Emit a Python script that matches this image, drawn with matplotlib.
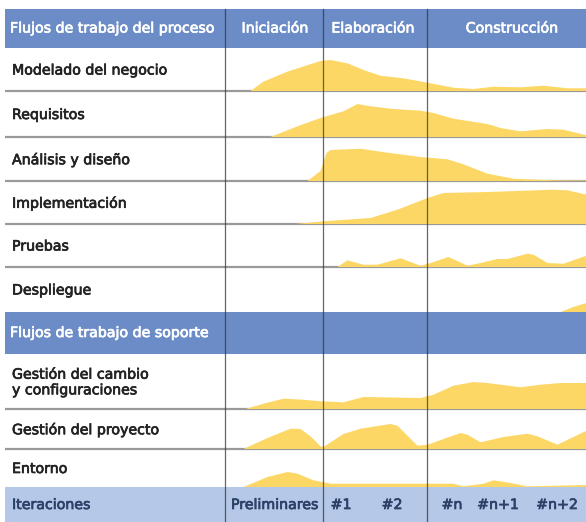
import matplotlib
matplotlib.use("Agg")
import matplotlib.pyplot as plt
import matplotlib.patheffects as pe
from matplotlib.patches import Rectangle

# ---- data: effort curves (t = position along the timeline, h = effort) ----
modelado_t = [25, 38, 62, 95, 105, 122, 138, 155, 178, 202, 228, 248, 268, 295, 318, 342, 361]
modelado_h = [0, 9.4, 19.4, 30, 31, 27.7, 21, 15.3, 12.7, 8.3, 3.3, 2, 4.3, 3.7, 5.3, 2.7, 2.7]

requisitos_t = [45, 72, 95, 118, 132, 145, 168, 195, 208, 228, 262, 275, 295, 322, 338, 361]
requisitos_h = [0, 10.7, 19, 25.7, 33, 30.7, 28, 26.3, 24, 18.3, 13, 9, 5.7, 8, 7.3, 1.7]

analisis_t = [82, 95, 101, 105, 135, 162, 195, 222, 238, 262, 288, 328, 361]
analisis_h = [0, 10, 28, 31, 32.3, 28.3, 24, 21.7, 16.7, 7.3, 2.3, 0.7, 0.5]

implementacion_t = [70, 98, 145, 172, 202, 218, 262, 328, 342, 361]
implementacion_h = [0, 2.7, 6, 14.3, 26, 31, 32, 34.3, 33.7, 29.3]

pruebas_t = [112, 122, 138, 152, 175, 195, 205, 223, 242, 255, 272, 282, 302, 308, 322, 338, 361]
pruebas_h = [0, 6.7, 2.3, 2.3, 8.7, 1.3, 4, 10, 1.3, 4, 8, 8, 13.3, 12.3, 4, 3.3, 11.3]

despliegue_t = [335, 348, 361]
despliegue_h = [0, 5, 9]

cambio_t = [20, 38, 58, 78, 95, 118, 138, 195, 208, 228, 248, 262, 295, 315, 335, 361]
cambio_h = [0, 5.3, 10.3, 9.3, 7.7, 6.7, 12, 11, 14.3, 23.3, 27, 26, 21.7, 24.3, 26, 26]

proyecto_t = [18, 42, 65, 75, 85, 95, 98, 118, 135, 165, 172, 192, 202, 235, 242, 255, 278, 302, 312, 332, 361]
proyecto_h = [0, 11, 20.3, 20, 12.7, 2.7, 2, 15, 20.3, 25, 23.3, 3.3, 4.3, 16, 14.3, 6.7, 12, 15.3, 12.7, 4.3, 18.3]

entorno_t = [18, 42, 62, 72, 88, 105, 228, 238, 258, 268, 285, 302, 361]
entorno_h = [0, 10, 15, 13.3, 6.7, 3.3, 3.3, 0.7, 3.3, 6.7, 4, 0.7, 2]

process_labels = ["Modelado del negocio", "Requisitos", "Análisis y diseño",
                  "Implementación", "Pruebas", "Despliegue"]
support_labels = ["Gestión del cambio\ny configuraciones", "Gestión del proyecto", "Entorno"]
phases = ["Iniciación", "Elaboración", "Construcción"]
iterations = ["Preliminares", "#1", "#2", "#n", "#n+1", "#n+2"]

curves = [(modelado_t, modelado_h), (requisitos_t, requisitos_h), (analisis_t, analisis_h),
          (implementacion_t, implementacion_h), (pruebas_t, pruebas_h),
          (despliegue_t, despliegue_h), (cambio_t, cambio_h),
          (proyecto_t, proyecto_h), (entorno_t, entorno_h)]

# ---- layout (pixels of the 586x522 picture) ----
W, H = 586, 522
BLUE = "#6b8cc6"
LIGHT = "#b5c8e8"
YELLOW = "#fdd766"
NAVY = "#2c4068"
TEXT = "#222222"

rows = [(48, 91), (91, 137), (137, 181), (181, 224), (224, 267), (267, 312),
        (354, 409), (409, 449), (449, 487)]
labels = process_labels + support_labels
x_chart = 225
vlines = [225, 322.5, 427]
phase_x = [275, 373, 512]
iter_x = [275, 341, 392, 452, 498, 557]

fig = plt.figure(figsize=(W / 100, H / 100), dpi=100)
bg = fig.add_axes([0, 0, 1, 1])
bg.set_xlim(0, W)
bg.set_ylim(H, 0)
bg.axis("off")

# bands
bg.add_patch(Rectangle((5, 9), W - 5, 39, color=BLUE, lw=0))
bg.add_patch(Rectangle((5, 312), W - 5, 42, color=BLUE, lw=0))
bg.add_patch(Rectangle((5, 487), W - 5, 35, color=LIGHT, lw=0))

# row separators
for top, bot in rows:
    if bot not in (312, 487):
        bg.plot([5, W], [bot, bot], color="#9a9a9a", lw=1.6, solid_capstyle="butt")

# effort curves, one small axes per row
for (top, bot), (t, h) in zip(rows, curves):
    ax = fig.add_axes([x_chart / W, 1 - (bot - 0.5) / H, (W - x_chart) / W, (bot - top - 0.5) / H])
    ax.fill_between(t, 0, h, color=YELLOW, lw=0)
    ax.set_xlim(0, W - x_chart)
    ax.set_ylim(0, bot - top - 0.5)
    ax.axis("off")
    ax.patch.set_alpha(0)

# overlay for vertical lines and text
ov = fig.add_axes([0, 0, 1, 1])
ov.set_xlim(0, W)
ov.set_ylim(H, 0)
ov.axis("off")
ov.patch.set_alpha(0)
for x in vlines:
    ov.plot([x, x], [9, H], color="#333333", lw=0.9, alpha=0.75)

fs = 10.2


def put(x, y, s, color, **kw):
    t = ov.text(x, y, s, color=color, fontsize=fs, va="center", **kw)
    t.set_path_effects([pe.withStroke(linewidth=0.5, foreground=color)])


put(10, 28.5, "Flujos de trabajo del proceso", "white")
for x, p in zip(phase_x, phases):
    put(x, 28.5, p, "white", ha="center")
for (top, bot), lab in zip(rows, labels):
    put(12, (top + bot) / 2 + 1, lab, TEXT, linespacing=1.15)
put(10, 333, "Flujos de trabajo de soporte", "white")
put(12, 505, "Iteraciones", NAVY)
for x, it in zip(iter_x, iterations):
    put(x, 505, it, NAVY, ha="center")

fig.savefig("out.png", dpi=100)
